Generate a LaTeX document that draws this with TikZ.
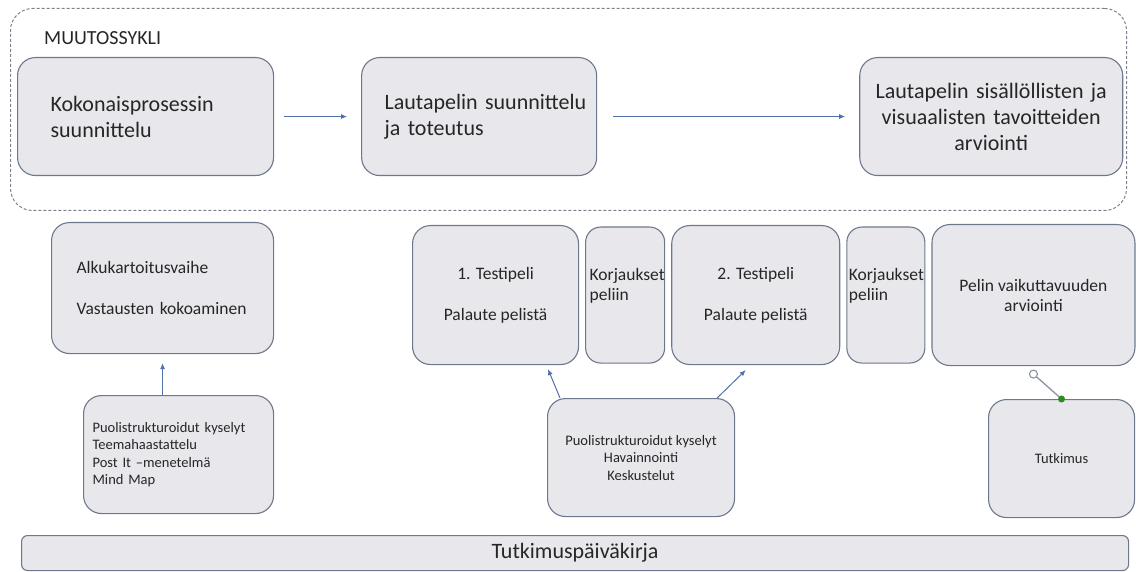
\documentclass[tikz,border=0pt]{standalone}
\usepackage{fontspec}
\setmainfont{Carlito}
\usetikzlibrary{positioning,arrows.meta}
\definecolor{boxfill}{HTML}{E8E8EC}
\definecolor{boxline}{HTML}{6E788C}
\definecolor{arrowblue}{HTML}{5271A8}
\definecolor{cycleline}{HTML}{80808E}
\definecolor{textgray}{HTML}{262626}
\definecolor{handlegreen}{HTML}{2E8B22}
\tikzset{
  phasebox/.style={draw=boxline,fill=boxfill,rounded corners=18pt,line width=1.1pt,
    text=textgray,inner ysep=0pt},
  cyclebox/.style={draw=cycleline,dash pattern=on 3pt off 2pt,rounded corners=22pt,
    line width=1pt},
  bigtext/.style={font=\fontsize{22}{26}\selectfont},
  midtext/.style={font=\fontsize{17.5}{20}\selectfont},
  smalltext/.style={font=\fontsize{14.5}{17.5}\selectfont},
  flow/.style={-{Latex[length=6pt,width=5pt]},line width=1pt,draw=arrowblue},
  handleline/.style={draw=boxline!80,line width=1.3pt},
}

\begin{document}
\begin{tikzpicture}[x=1pt,y=-1pt]
  \useasboundingbox (0,0) rectangle (1136,572);
  % muutossykli
  \node[cyclebox,anchor=north west,minimum width=1116pt,minimum height=202pt] (cycle) at (10,8) {};
  \node[below right=23.5pt and 34pt of cycle.north west,inner sep=0pt,text=textgray,
    font=\fontsize{20}{24}\selectfont] (cyclelabel) {MUUTOSSYKLI};
  \node[phasebox,bigtext,anchor=north west,minimum width=256pt,minimum height=118pt,
    inner xsep=33pt,text width=190pt,align=left] (plan) at (17,57)
    {Kokonaisprosessin\\suunnittelu};
  \node[phasebox,bigtext,right=87pt of plan,minimum width=235pt,minimum height=118pt,
    inner xsep=23pt,text width=189pt,align=left] (build)
    {\mbox{Lautapelin suunnittelu}\\ja toteutus};
  \node[phasebox,bigtext,right=262pt of build,minimum width=263pt,minimum height=118pt,
    inner xsep=10pt,text width=243pt,align=center] (goals)
    {Lautapelin sisällöllisten ja\\visuaalisten tavoitteiden\\arviointi};
  \draw[flow,shorten <=10pt,shorten >=14pt] (plan) -- (build);
  \draw[flow,shorten <=16pt,shorten >=14pt] (build) -- (goals);
  % alkukartoitus
  \node[phasebox,midtext,anchor=north west,minimum width=222pt,minimum height=131pt,
    inner xsep=25pt,text width=172pt,align=left] (survey) at (51,222)
    {Alkukartoitusvaihe\\[21pt]Vastausten kokoaminen};
  \node[phasebox,smalltext,anchor=north west,minimum width=190pt,minimum height=118pt,
    inner xsep=9pt,text width=172pt,align=left] (methods1) at (83,395)
    {Puolistrukturoidut kyselyt\\Teemahaastattelu\\Post It –menetelmä\\Mind Map};
  \draw[flow,shorten >=9pt] (survey.south |- methods1.north) -- (survey.south);
  % testipelit
  \node[phasebox,midtext,anchor=north west,minimum width=166pt,minimum height=139pt,
    align=center] (test1) at (412,225) {1. Testipeli\\[21pt]Palaute pelistä};
  \node[phasebox,midtext,right=6pt of test1,minimum width=79pt,minimum height=136pt,
    rounded corners=15pt,inner xsep=4pt,text width=71pt,align=left] (fix1)
    {Korjaukset\\peliin\par\vspace*{19pt}};
  \node[phasebox,midtext,right=6pt of fix1,minimum width=168pt,minimum height=139pt,
    align=center] (test2) {2. Testipeli\\[21pt]Palaute pelistä};
  \node[phasebox,midtext,right=6pt of test2,minimum width=78pt,minimum height=136pt,
    rounded corners=15pt,inner xsep=2pt,text width=74pt,align=left] (fix2)
    {Korjaukset\\peliin\par\vspace*{19pt}};
  \node[phasebox,midtext,right=6pt of fix2,minimum width=203pt,minimum height=141pt,
    align=center] (impact) {Pelin vaikuttavuuden\\arviointi};
  \node[phasebox,smalltext,anchor=north west,minimum width=187pt,minimum height=118pt,
    align=center] (methods2) at (547,398)
    {Puolistrukturoidut kyselyt\\Havainnointi\\Keskustelut};
  \draw[flow] ([xshift=13pt]methods2.north west) -- ([shift={(136,4)}]test1.south west);
  \draw[flow] ([xshift=-18pt]methods2.north east) -- ([shift={(-10,5)}]test2.south);
  % tutkimus
  \node[phasebox,smalltext,anchor=north west,minimum width=146pt,minimum height=118pt,
    align=center] (research) at (988,399) {Tutkimus};
  \draw[handleline] ([yshift=-8pt]impact.south) -- (research.north);
  \draw[draw=boxline!80,fill=white,line width=1.1pt] ([yshift=-8pt]impact.south) circle (4pt);
  \fill[handlegreen] (research.north) circle (3.5pt);
  % tutkimuspaivakirja
  \node[phasebox,bigtext,rounded corners=6pt,anchor=north west,minimum width=1107pt,
    minimum height=35pt] (diary) at (21,535) {Tutkimuspäiväkirja};
\end{tikzpicture}
\end{document}
